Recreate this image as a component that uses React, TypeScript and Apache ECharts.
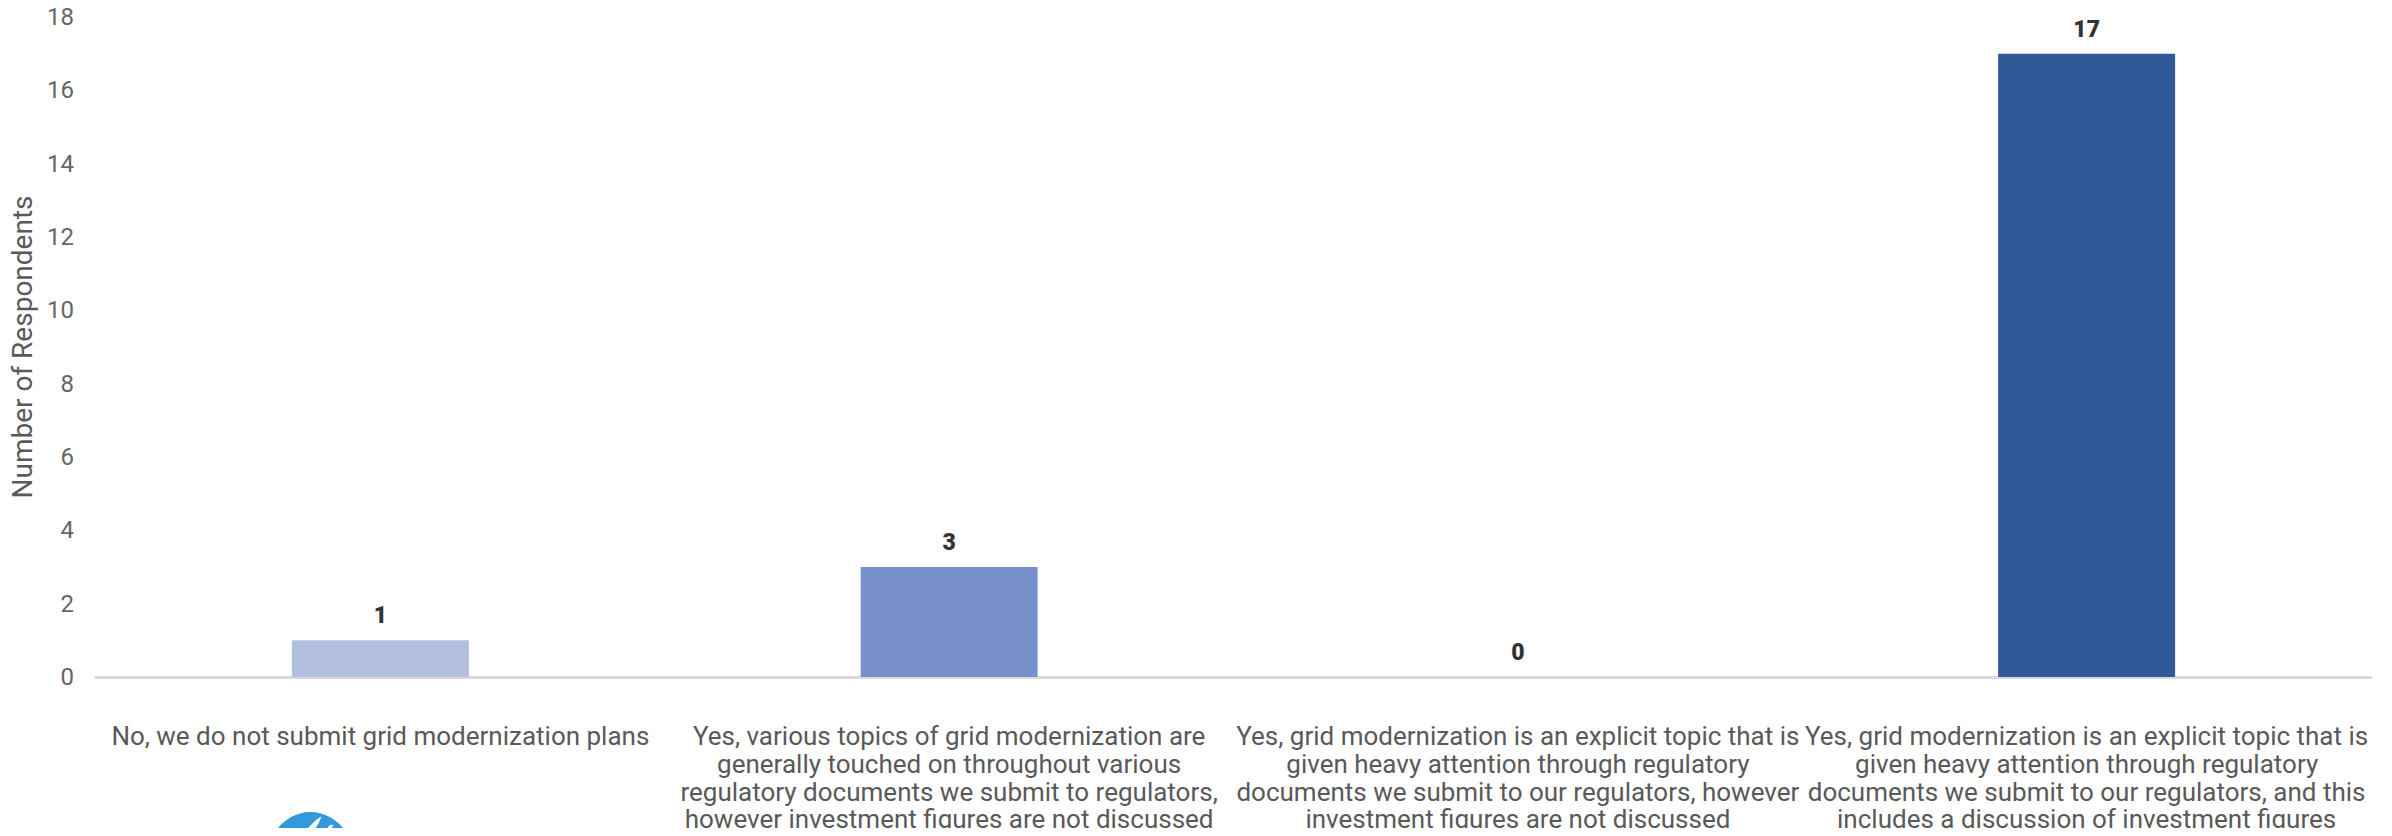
import React, { useEffect, useRef } from "react";
import * as echarts from "echarts";

// Survey answers (category axis), one line break per wrapped line
const answers: string[] = [
  "No, we do not submit grid modernization plans",
  "Yes, various topics of grid modernization are\ngenerally touched on throughout various\nregulatory documents we submit to regulators,\nhowever investment figures are not discussed",
  "Yes, grid modernization is an explicit topic that is\ngiven heavy attention through regulatory\ndocuments we submit to our regulators, however\ninvestment figures are not discussed",
  "Yes, grid modernization is an explicit topic that is\ngiven heavy attention through regulatory\ndocuments we submit to our regulators, and this\nincludes a discussion of investment figures",
];

// Number of respondents per answer
const respondents: number[] = [1, 3, 0, 17];

// Fill for each bar
const barColors: string[] = ["#B3BFDF", "#7891CD", "#4F6FB0", "#315898"];

const yAxisTitle = "Number of Respondents";

export default function App() {
  const ref = useRef<HTMLDivElement>(null);

  useEffect(() => {
    if (!ref.current) return;
    const chart = echarts.init(ref.current, null, { renderer: "svg" });
    chart.setOption({
      animation: false,
      backgroundColor: "#ffffff",
      grid: {
        left: 96,
        right: 21,
        top: 17,
        bottom: 159,
        containLabel: false,
        outerBoundsMode: "none",
      },
      xAxis: {
        type: "category",
        data: answers,
        axisLine: { show: true, lineStyle: { color: "#D9D9D9", width: 3 } },
        axisTick: { show: false },
        axisLabel: {
          interval: 0,
          margin: 45,
          width: 590,
          overflow: "none",
          hideOverlap: false,
          fontFamily: "Roboto",
          fontSize: 26,
          lineHeight: 27.8,
          color: "#595959",
          align: "center",
        },
      },
      yAxis: {
        type: "value",
        min: 0,
        max: 18,
        interval: 2,
        name: yAxisTitle,
        nameLocation: "middle",
        nameGap: 49,
        nameTextStyle: { fontFamily: "Roboto", fontSize: 28, color: "#595959" },
        axisLine: { show: false },
        axisTick: { show: false },
        splitLine: { show: false },
        axisLabel: {
          margin: 22,
          fontFamily: "Roboto",
          fontSize: 24,
          color: "#666666",
        },
      },
      series: [
        {
          type: "bar",
          barWidth: 177,
          data: respondents.map((v, i) => ({
            value: v,
            itemStyle: { color: barColors[i] },
          })),
          label: {
            show: true,
            position: "top",
            distance: 13,
            fontFamily: "Roboto",
            fontWeight: 900,
            fontSize: 23,
            color: "#333333",
          },
        },
      ],
      graphic: [
        {
          type: "group",
          left: 270,
          top: 812,
          children: [
            {
              type: "circle",
              shape: { cx: 41, cy: 41, r: 40.5 },
              style: { fill: "#3399DD" },
            },
            {
              type: "polygon",
              shape: { points: [[31, 24], [47, 8], [52, 5], [49, 12], [41, 24]] },
              style: { fill: "#ffffff" },
            },
            {
              type: "polygon",
              shape: { points: [[51, 24], [60, 14], [64, 13], [59, 24]] },
              style: { fill: "#ffffff" },
            },
          ],
        },
      ],
    });
    return () => chart.dispose();
  }, []);

  return <div ref={ref} style={{ width: 2392, height: 836, margin: -8 }} />;
}
